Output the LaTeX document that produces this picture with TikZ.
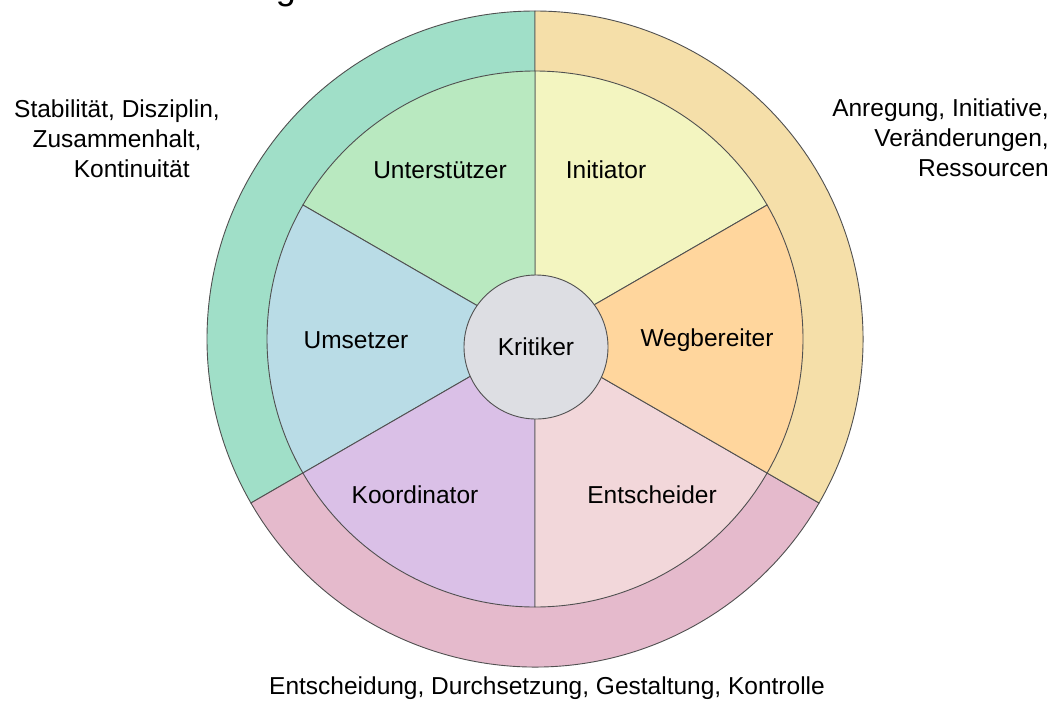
\documentclass[tikz,border=0pt]{standalone}
\usepackage{fontspec}
\setmainfont{Liberation Sans}
\definecolor{ringgreen}{RGB}{160,223,200}
\definecolor{ringbeige}{RGB}{245,223,169}
\definecolor{ringpink}{RGB}{229,186,204}
\definecolor{cunter}{RGB}{185,233,192}
\definecolor{cinit}{RGB}{243,245,192}
\definecolor{cweg}{RGB}{255,214,157}
\definecolor{cents}{RGB}{242,215,218}
\definecolor{ckoord}{RGB}{218,192,231}
\definecolor{cumset}{RGB}{185,220,230}
\definecolor{ckrit}{RGB}{221,222,227}
\definecolor{linegray}{RGB}{80,80,80}
\begin{document}
\begin{tikzpicture}[x=1pt,y=1pt,
  edge/.style={draw=linegray, line width=0.9pt},
  lbl/.style={font=\fontsize{24.5}{30}\selectfont, text=black, inner sep=0pt},
  side/.style={lbl, align=center}]
\useasboundingbox (0,0) rectangle (1056,-702);
\fill[white] (0,0) rectangle (1056,-702);
\def\Ro{328}
\def\Ri{268}
\coordinate (C) at (535,-339);
% outer ring
\filldraw[edge, fill=ringgreen] (C) -- ++(90:\Ro) arc[start angle=90, end angle=210, radius=\Ro] -- cycle;
\filldraw[edge, fill=ringpink] (C) -- ++(210:\Ro) arc[start angle=210, end angle=330, radius=\Ro] -- cycle;
\filldraw[edge, fill=ringbeige] (C) -- ++(330:\Ro) arc[start angle=-30, end angle=90, radius=\Ro] -- cycle;
% inner segments
\filldraw[edge, fill=cinit] (C) -- ++(30:\Ri) arc[start angle=30, end angle=90, radius=\Ri] -- cycle;
\filldraw[edge, fill=cunter] (C) -- ++(90:\Ri) arc[start angle=90, end angle=150, radius=\Ri] -- cycle;
\filldraw[edge, fill=cumset] (C) -- ++(150:\Ri) arc[start angle=150, end angle=210, radius=\Ri] -- cycle;
\filldraw[edge, fill=ckoord] (C) -- ++(210:\Ri) arc[start angle=210, end angle=270, radius=\Ri] -- cycle;
\filldraw[edge, fill=cents] (C) -- ++(270:\Ri) arc[start angle=270, end angle=330, radius=\Ri] -- cycle;
\filldraw[edge, fill=cweg] (C) -- ++(330:\Ri) arc[start angle=-30, end angle=30, radius=\Ri] -- cycle;
% centre
\node[circle, edge, fill=ckrit, minimum size=144pt, inner sep=0pt, font=\fontsize{24.5}{30}\selectfont] (krit) at (536,-347) {Kritiker};
% labels
\node[lbl] (unter) at (440,-170) {Unterstützer};
\node[lbl] (init) at (606,-170) {Initiator};
\node[lbl] (umset) at (356,-340) {Umsetzer};
\node[lbl] (weg) at (707,-340) {Wegbereiter};
\node[lbl] (koord) at (415,-495) {Koordinator};
\node[lbl] (ents) at (652,-495) {Entscheider};
% side texts
\node[side] (left) at (117,-139) {Stabilität, Disziplin,\\Zusammenhalt,\\\hspace*{1.2em}Kontinuität};
\node[lbl, align=right, anchor=east] (right) at (1049,-138) {Anregung, Initiative,\\Veränderungen,\\Ressourcen};
\node[lbl] (bottom) at (547,-688) {Entscheidung, Durchsetzung, Gestaltung, Kontrolle};
% cut-off title fragment
\node[font=\fontsize{36}{40}\selectfont, anchor=base, inner sep=0pt] (title) at (286,1) {g};
\end{tikzpicture}
\end{document}
